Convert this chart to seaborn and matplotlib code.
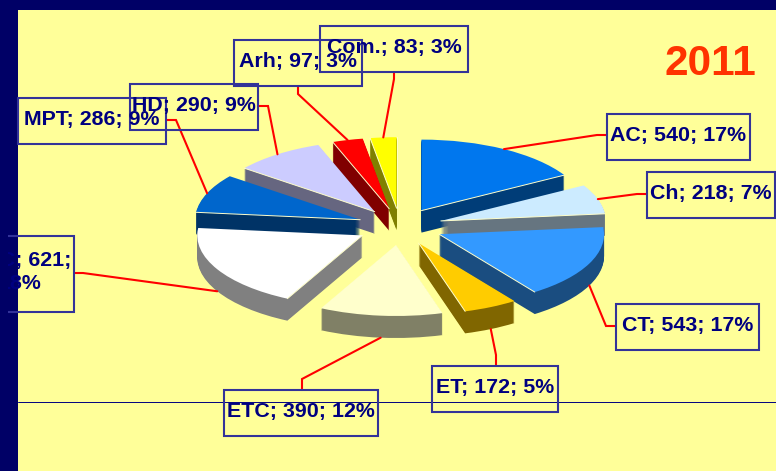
import numpy as np
import seaborn as sns
import matplotlib.pyplot as plt
from matplotlib.patches import Rectangle

names = ['AC', 'Ch', 'CT', 'ET', 'ETC', 'MTC', 'MPT', 'HD', 'Arh', 'Com.']
values = [540, 218, 543, 172, 390, 621, 286, 290, 97, 83]
percents = [17, 7, 17, 5, 12, 18, 9, 9, 3, 3]
year = '2011'

top_colors = ['#0077EE', '#CCEBFF', '#3399FF', '#FFCC00', '#FFFFCC',
              '#FFFFFF', '#0066CC', '#CCCCFF', '#FF0000', '#FFFF00']
wall_colors = ['#003D78', '#667580', '#1A4D80', '#806600', '#808066',
               '#808080', '#003366', '#666680', '#800000', '#808000']

# back to front
draw_order = [9, 8, 7, 0, 6, 1, 2, 5, 3, 4]

sns.set_theme(style='white')
plt.rcParams['font.family'] = ['Liberation Sans', 'DejaVu Sans']

W, H = 776, 471
BG = '#FFFF99'
NAVY = '#000066'
TXT = '#000080'
BOX = '#333399'
RX, RY = 165.0, 71.0      # pixels per pie unit
CX, CY = 400.0, 226.6     # pie centre in pixels
DEPTH = 22                # wall height in pixels

fig = plt.figure(figsize=(W / 100, H / 100), dpi=100, facecolor=BG)
ax = fig.add_axes([0, 0, 1, 1])
over = fig.add_axes([0, 0, 1, 1])
over.set_xlim(0, W)
over.set_ylim(H, 0)
over.axis('off')
over.patch.set_visible(False)

# frame
over.axvspan(0, 18, color=NAVY, lw=0, zorder=0)
over.axhspan(0, 10, color=NAVY, lw=0, zorder=0)
over.plot([18, W], [402, 402], color=TXT, lw=0.7, zorder=1)

explode = [0.26] * len(values)
rank = {s: i for i, s in enumerate(draw_order)}

# walls: same pie stacked downwards
for step in range(DEPTH, 0, -1):
    wedges, _ = ax.pie(values, explode=explode, startangle=90, counterclock=False,
                       colors=sns.color_palette(wall_colors),
                       center=(0, -step / RY), wedgeprops=dict(lw=0))
    for i, w in enumerate(wedges):
        w.set_zorder(3 * rank[i] + 1)

wedges, _ = ax.pie(values, explode=explode, startangle=90, counterclock=False,
                   colors=sns.color_palette(top_colors), wedgeprops=dict(lw=0))
for i, w in enumerate(wedges):
    w.set_zorder(3 * rank[i] + 2)
    # pale rim on the radial edges that have a wall under them
    cos1 = np.cos(np.deg2rad(w.theta1))
    cos2 = np.cos(np.deg2rad(w.theta2))
    for theta, visible in ((w.theta1, cos1 > 0), (w.theta2, cos2 < 0)):
        if visible:
            a = np.deg2rad(theta)
            ax.plot([w.center[0], w.center[0] + np.cos(a)],
                    [w.center[1], w.center[1] + np.sin(a)],
                    color='#FFFFCC', lw=0.7, zorder=3 * rank[i] + 3)

ax.set_aspect('auto')
ax.set_xlim(-CX / RX, (W - CX) / RX)
ax.set_ylim(-(H - CY) / RY, CY / RY)
ax.axis('off')
ax.patch.set_visible(False)

# label boxes: left, right, top, bottom
boxes = [(606.5, 750, 114, 160), (646.5, 775, 172, 218), (616, 759, 304, 350),
         (432, 558, 366, 412), (224, 378, 390, 436), (-34, 74, 236, 312),
         (18, 166, 98, 144), (130, 258, 84, 130), (234, 362, 40, 86),
         (320, 468, 26, 72)]
# leader elbows: bend, then the point on the box
elbows = [((597, 135), (606, 135)), ((637, 194), (646, 194)), ((606, 326), (616, 326)),
          ((496, 355), (496, 366)), ((302, 379), (302, 390)), ((83, 273), (74, 273)),
          ((176, 120), (166, 120)), ((268, 106), (258, 106)), ((298, 94), (298, 86)),
          ((394, 79), (394, 72))]

labels = [f'{n}; {v}; {p}%' for n, v, p in zip(names, values, percents)]
labels[5] = f'{names[5]}; {values[5]};\n{percents[5]}%'

clip = Rectangle((8, 0), W, H, transform=over.transData)
to_over = ax.transData + over.transData.inverted()

for i, w in enumerate(wedges):
    mid = np.deg2rad((w.theta1 + w.theta2) / 2)
    px, py = to_over.transform((w.center[0] + np.cos(mid), w.center[1] + np.sin(mid)))
    if np.sin(mid) < 0:
        py += DEPTH
    bend, end = elbows[i]
    over.plot([px, bend[0], end[0]], [py, bend[1], end[1]], color='#FF0000', lw=1.5,
              solid_joinstyle='miter', zorder=3)

    x0, x1, y0, y1 = boxes[i]
    r = Rectangle((x0, y0), x1 - x0, y1 - y0, fill=False, ec=BOX, lw=1.5, zorder=4)
    over.add_patch(r)
    r.set_clip_path(clip)
    t = over.text((x0 + x1) / 2, (y0 + y1) / 2 - 2, labels[i], ha='center', va='center',
                  color=TXT, fontsize=15.4, fontweight='bold', linespacing=1.3,
                  zorder=5, clip_on=True)
    t.set_clip_path(clip)

over.text(710, 64, year, ha='center', va='center', color='#FF3300',
          fontsize=30.5, fontweight='bold', zorder=5)

fig.savefig('out.png', dpi=100, facecolor=BG)
